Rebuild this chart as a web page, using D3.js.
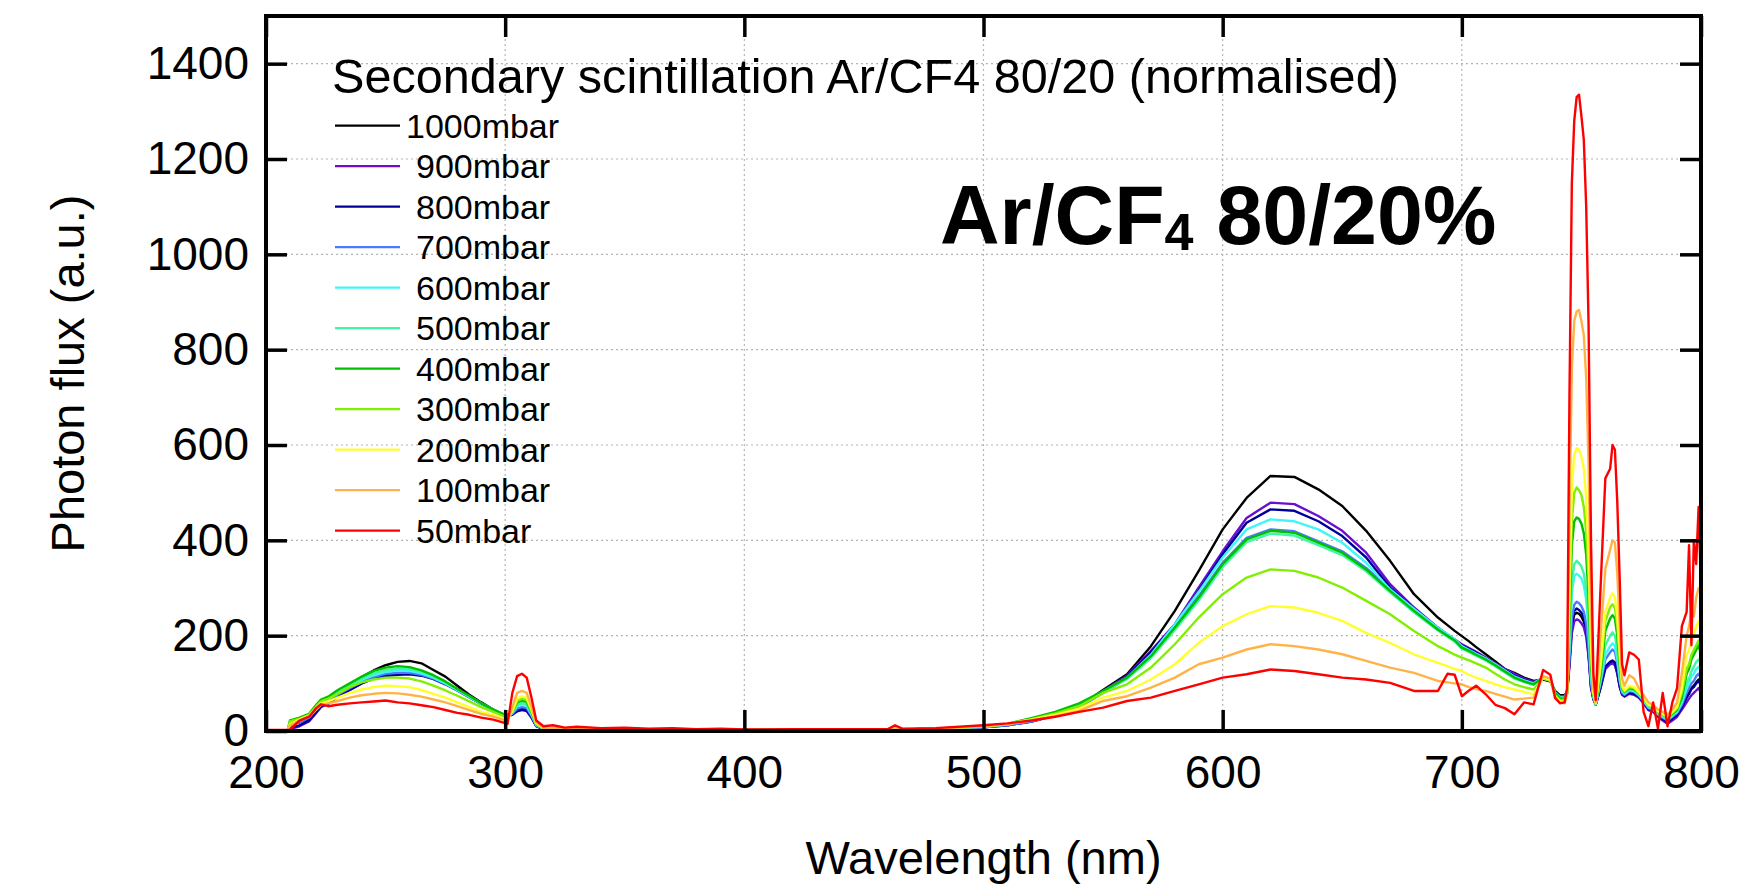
<!DOCTYPE html>
<html>
<head>
<meta charset="utf-8">
<script src="https://cdn.jsdelivr.net/npm/d3@7"></script>
<style>
  body { margin: 0; background: #fff; }
  svg { display: block; font-family: "Liberation Sans", Arial, Helvetica, sans-serif; }
</style>
</head>
<body>
<svg id="chart" width="1758" height="887"></svg>
<script>
// Wavelength grid (nm)
const wavelength = [200, 209, 210, 214, 218, 221, 223, 226, 230, 235,
  240, 245, 250, 255, 260, 265, 270, 275, 280, 285,
  290, 295, 299, 301, 303, 305, 307, 309, 311, 313,
  316, 320, 325, 330, 340, 350, 360, 370, 380, 390,
  400, 420, 440, 460, 463, 466, 480, 500, 510, 520,
  530, 540, 550, 560, 570, 580, 590, 600, 610, 620,
  630, 640, 650, 660, 670, 680, 690, 694, 697, 700,
  703, 706, 710, 714, 718, 722, 726, 730, 734, 737,
  739, 741, 743, 744, 745, 746, 747, 748, 749, 750,
  751, 752, 753, 754, 755, 756, 758, 760, 762, 763,
  764, 765, 766, 767, 768, 770, 772, 774, 776, 778,
  780, 782, 784, 786, 788, 790, 792, 794, 795, 796,
  797, 798, 799, 800];

// Photon flux per pressure (a.u.)
const flux1000 = [0, 0, 14, 18, 26, 42, 52, 60, 78, 97,
  113, 127, 138, 145, 147, 142, 128, 114, 95, 76,
  60, 45, 34, 33, 36, 44, 47, 45, 30, 11,
  5, 5, 4, 4, 3, 3, 3, 2, 2, 2,
  2, 2, 2, 3, 8, 3, 5, 10, 14, 24,
  36, 52, 86, 119, 178, 252, 336, 423, 489, 535,
  533, 507, 472, 420, 357, 287, 238, 222, 210, 199,
  188, 176, 161, 146, 130, 122, 112, 105, 108, 104,
  84, 75, 75, 82, 145, 220, 244, 248, 246, 240,
  230, 210, 160, 95, 68, 56, 92, 135, 143, 144,
  140, 122, 94, 78, 74, 80, 78, 72, 60, 46,
  42, 32, 26, 20, 28, 36, 52, 72, 80, 90,
  95, 102, 108, 98];
const flux900 = [0, 0, 4, 10, 20, 38, 50, 57, 72, 86,
  100, 110, 117, 120, 121, 119, 112, 101, 88, 73,
  58, 45, 36, 33, 35, 41, 44, 42, 28, 10,
  4, 5, 4, 4, 3, 3, 3, 2, 2, 2,
  2, 2, 2, 3, 8, 3, 4, 8, 12, 20,
  33, 50, 84, 116, 168, 224, 301, 377, 447, 479,
  476, 451, 420, 374, 308, 259, 217, 202, 192, 182,
  174, 166, 154, 142, 130, 120, 110, 103, 110, 106,
  80, 72, 72, 78, 135, 205, 230, 234, 232, 226,
  218, 198, 155, 90, 66, 55, 90, 130, 140, 142,
  138, 120, 92, 76, 72, 78, 76, 70, 58, 44,
  40, 30, 22, 15, 22, 30, 45, 60, 68, 75,
  80, 85, 90, 80];
const flux800 = [0, 0, 6, 12, 22, 40, 52, 58, 72, 86,
  100, 110, 116, 118, 119, 116, 109, 98, 85, 71,
  57, 44, 35, 32, 34, 42, 45, 43, 29, 10,
  4, 5, 4, 4, 3, 3, 3, 2, 2, 2,
  2, 2, 2, 3, 8, 3, 4, 8, 12, 20,
  33, 50, 82, 114, 165, 222, 294, 371, 437, 465,
  462, 440, 409, 364, 301, 256, 215, 200, 190, 180,
  172, 164, 152, 140, 128, 116, 108, 101, 110, 106,
  80, 72, 72, 80, 145, 225, 252, 257, 254, 248,
  238, 215, 165, 95, 68, 55, 92, 135, 145, 148,
  144, 125, 95, 78, 74, 80, 78, 72, 60, 46,
  42, 32, 25, 18, 26, 34, 50, 70, 78, 88,
  92, 100, 105, 95];
const flux700 = [0, 0, 12, 18, 28, 45, 55, 62, 76, 90,
  103, 113, 120, 122, 122, 118, 110, 99, 85, 71,
  57, 44, 35, 32, 36, 47, 50, 48, 32, 11,
  5, 5, 4, 4, 3, 3, 3, 2, 2, 2,
  2, 2, 2, 3, 8, 3, 4, 8, 12, 20,
  33, 50, 80, 110, 158, 220, 283, 353, 405, 423,
  419, 398, 377, 342, 297, 255, 216, 203, 192, 177,
  170, 162, 152, 140, 127, 114, 106, 100, 112, 108,
  82, 72, 72, 80, 150, 235, 265, 271, 268, 262,
  250, 225, 175, 100, 70, 56, 100, 150, 165, 171,
  166, 142, 104, 80, 76, 84, 82, 74, 62, 48,
  44, 34, 28, 22, 30, 38, 55, 80, 90, 100,
  105, 115, 120, 110];
const flux600 = [0, 0, 16, 22, 32, 50, 60, 66, 80, 93,
  107, 117, 124, 127, 126, 121, 112, 100, 86, 72,
  57, 44, 35, 32, 38, 52, 56, 53, 35, 12,
  5, 5, 4, 4, 3, 3, 3, 2, 2, 2,
  2, 2, 2, 3, 8, 3, 5, 9, 14, 25,
  38, 55, 83, 112, 160, 224, 292, 364, 423, 444,
  440, 423, 395, 353, 297, 256, 216, 203, 192, 178,
  170, 162, 152, 140, 127, 114, 106, 100, 112, 108,
  80, 70, 70, 80, 175, 290, 325, 330, 326, 320,
  305, 275, 210, 115, 72, 56, 105, 160, 178, 184,
  178, 152, 110, 84, 78, 86, 84, 76, 64, 50,
  46, 36, 30, 24, 32, 40, 60, 90, 100, 115,
  120, 130, 135, 125];
const flux500 = [0, 0, 18, 25, 34, 52, 62, 68, 82, 96,
  110, 121, 128, 131, 130, 124, 114, 102, 87, 73,
  58, 45, 36, 33, 40, 55, 59, 56, 37, 13,
  5, 5, 4, 4, 3, 3, 3, 2, 2, 2,
  2, 2, 2, 3, 8, 3, 5, 9, 14, 25,
  38, 55, 82, 109, 153, 212, 274, 344, 396, 414,
  410, 390, 369, 335, 291, 249, 211, 198, 188, 173,
  166, 158, 148, 136, 123, 110, 103, 97, 110, 106,
  80, 70, 70, 80, 190, 310, 350, 357, 352, 345,
  330, 295, 225, 120, 72, 56, 110, 180, 200, 207,
  200, 170, 120, 86, 80, 88, 85, 78, 66, 52,
  48, 38, 32, 26, 34, 42, 65, 100, 110, 125,
  135, 145, 150, 140];
const flux400 = [0, 0, 22, 28, 36, 55, 66, 72, 86, 100,
  114, 126, 133, 136, 134, 127, 117, 104, 88, 74,
  58, 45, 36, 33, 40, 60, 64, 61, 40, 14,
  5, 5, 4, 4, 3, 3, 3, 2, 2, 2,
  2, 2, 2, 3, 8, 3, 5, 10, 15, 27,
  40, 58, 84, 112, 157, 217, 280, 350, 402, 420,
  416, 395, 374, 339, 294, 252, 213, 200, 190, 175,
  168, 160, 150, 138, 125, 112, 104, 98, 112, 108,
  80, 68, 68, 80, 230, 390, 440, 448, 445, 435,
  415, 370, 280, 145, 76, 58, 120, 210, 236, 243,
  236, 200, 140, 90, 82, 90, 88, 80, 68, 55,
  50, 40, 34, 28, 36, 45, 70, 120, 130, 150,
  160, 170, 180, 160];
const flux300 = [0, 0, 20, 26, 34, 52, 62, 68, 78, 92,
  102, 108, 112, 112, 110, 104, 95, 85, 74, 62,
  50, 40, 32, 29, 40, 63, 68, 65, 42, 15,
  5, 5, 4, 4, 3, 3, 3, 2, 2, 2,
  2, 2, 2, 3, 8, 3, 5, 10, 15, 25,
  37, 52, 80, 98, 133, 182, 238, 287, 322, 339,
  336, 322, 301, 273, 245, 210, 178, 168, 160, 154,
  148, 142, 133, 120, 108, 98, 92, 87, 110, 106,
  76, 65, 65, 78, 260, 440, 500, 511, 505, 495,
  470, 420, 320, 160, 78, 58, 130, 230, 260, 266,
  258, 220, 150, 92, 83, 92, 90, 80, 68, 55,
  50, 40, 34, 28, 38, 48, 80, 130, 140, 160,
  170, 180, 190, 175];
const flux200 = [0, 0, 14, 24, 32, 48, 58, 62, 70, 80,
  87, 92, 95, 94, 92, 86, 78, 70, 60, 50,
  40, 33, 27, 24, 42, 68, 73, 70, 45, 16,
  6, 5, 4, 4, 3, 3, 3, 2, 2, 2,
  2, 2, 2, 3, 8, 3, 5, 10, 15, 24,
  34, 47, 70, 84, 108, 140, 185, 220, 245, 262,
  259, 248, 231, 206, 185, 161, 143, 136, 130, 126,
  118, 112, 105, 98, 92, 87, 82, 77, 112, 108,
  72, 62, 62, 75, 300, 510, 580, 593, 590, 575,
  550, 490, 370, 180, 80, 58, 140, 250, 280, 289,
  280, 240, 165, 95, 85, 95, 92, 82, 70, 55,
  52, 42, 36, 30, 40, 50, 90, 160, 170, 190,
  200, 220, 230, 220];
const flux100 = [0, 0, 12, 22, 30, 45, 55, 58, 63, 70,
  75, 78, 80, 79, 76, 72, 66, 60, 52, 44,
  36, 30, 24, 22, 50, 80, 84, 80, 50, 18,
  6, 5, 4, 4, 3, 3, 3, 2, 2, 2,
  2, 2, 2, 3, 8, 3, 5, 10, 14, 22,
  31, 42, 63, 73, 91, 112, 140, 154, 171, 182,
  178, 171, 161, 147, 133, 122, 105, 102, 100, 98,
  92, 88, 84, 78, 72, 66, 68, 70, 115, 110,
  68, 60, 58, 80, 450, 760, 860, 880, 883, 860,
  830, 740, 560, 260, 90, 60, 200, 340, 380, 400,
  395, 330, 220, 110, 95, 117, 110, 90, 75, 60,
  55, 45, 40, 35, 45, 60, 120, 200, 220, 250,
  240, 280, 300, 290];
const flux50 = [2, 2, 3, 22, 30, 48, 56, 52, 55, 58,
  60, 62, 64, 60, 58, 54, 50, 44, 38, 34,
  28, 24, 18, 15, 80, 115, 120, 112, 70, 22,
  10, 12, 7, 9, 6, 7, 5, 6, 4, 5,
  3, 4, 4, 4, 12, 5, 6, 12, 16, 22,
  30, 40, 49, 63, 70, 84, 98, 112, 119, 129,
  126, 119, 112, 108, 101, 84, 84, 120, 118, 73,
  85, 95, 77, 55, 48, 35, 60, 56, 128, 118,
  70, 58, 60, 90, 700, 1150, 1280, 1330, 1335, 1290,
  1240, 1100, 850, 400, 120, 65, 300, 530, 550, 600,
  590, 480, 320, 140, 117, 165, 160, 150, 40, 10,
  60, 5, 80, 10, 60, 90, 220, 250, 390, 180,
  400, 350, 470, 300];

const pressureLabels = ["1000mbar", "900mbar", "800mbar", "700mbar", "600mbar", "500mbar",
  "400mbar", "300mbar", "200mbar", "100mbar", "50mbar"];
const lineColors = ["#000000", "#6a0fd0", "#000099", "#4a7bff", "#3ff6f6", "#3ff7a0",
  "#00c000", "#80f000", "#ffff30", "#ffb347", "#ff0000"];
const fluxSeries = [flux1000, flux900, flux800, flux700, flux600, flux500,
  flux400, flux300, flux200, flux100, flux50];

const xTicks = [200, 300, 400, 500, 600, 700, 800];
const yTicks = [0, 200, 400, 600, 800, 1000, 1200, 1400];

fluxSeries.forEach((s, i) => {
  if (s.length !== wavelength.length) console.error(pressureLabels[i], s.length);
});

// Layout
const margin = { top: 16, right: 57, bottom: 156, left: 266 };
const width = 1758, height = 887;
const innerW = width - margin.left - margin.right;
const innerH = height - margin.top - margin.bottom;

const svg = d3.select("#chart");

const x = d3.scaleLinear().domain([200, 800]).range([margin.left, margin.left + innerW]);
const y = d3.scaleLinear().domain([0, 1500]).range([margin.top + innerH, margin.top]);

// Dotted grid
const grid = svg.append("g").attr("stroke", "#b4b4b4").attr("stroke-width", 1.2)
  .attr("stroke-dasharray", "2,3");
grid.selectAll("line.gx")
  .data(xTicks.slice(1, -1))
  .join("line")
  .attr("x1", d => x(d)).attr("x2", d => x(d))
  .attr("y1", y(0)).attr("y2", y(1500));
grid.selectAll("line.gy")
  .data(yTicks.slice(1))
  .join("line")
  .attr("class", "gy")
  .attr("x1", x(200)).attr("x2", x(800))
  .attr("y1", d => y(d)).attr("y2", d => y(d));

// Spectra
svg.append("clipPath").attr("id", "plotClip")
  .append("rect")
  .attr("x", x(200)).attr("y", y(1500))
  .attr("width", innerW).attr("height", innerH);

const line = d3.line()
  .x((d, i) => x(wavelength[i]))
  .y(d => y(d));

svg.append("g")
  .attr("clip-path", "url(#plotClip)")
  .selectAll("path")
  .data(fluxSeries)
  .join("path")
  .attr("d", line)
  .attr("fill", "none")
  .attr("stroke", (d, i) => lineColors[i])
  .attr("stroke-width", 2.4)
  .attr("stroke-linejoin", "round");

// Axes with inward ticks on all sides
const tickLen = 21;
const axisStyle = g => {
  g.select(".domain").remove();
  g.selectAll(".tick line").attr("stroke", "#000").attr("stroke-width", 3.5);
  g.selectAll(".tick text").attr("fill", "#000").style("font-size", "46px")
    .style("font-family", "'Liberation Sans', Arial, Helvetica, sans-serif");
};

svg.append("g")
  .attr("transform", `translate(0,${y(0)})`)
  .call(d3.axisBottom(x).tickValues(xTicks).tickSize(-tickLen).tickPadding(24).tickFormat(d3.format("d")))
  .call(axisStyle);
svg.append("g")
  .attr("transform", `translate(0,${y(1500)})`)
  .call(d3.axisTop(x).tickValues(xTicks).tickSize(-tickLen).tickFormat(""))
  .call(axisStyle);
svg.append("g")
  .attr("transform", `translate(${x(200)},0)`)
  .call(d3.axisLeft(y).tickValues(yTicks).tickSize(-tickLen).tickPadding(17).tickFormat(d3.format("d")))
  .call(axisStyle);
svg.append("g")
  .attr("transform", `translate(${x(800)},0)`)
  .call(d3.axisRight(y).tickValues(yTicks).tickSize(-tickLen).tickFormat(""))
  .call(axisStyle);

// Frame
svg.append("rect")
  .attr("x", x(200)).attr("y", y(1500))
  .attr("width", innerW).attr("height", innerH)
  .attr("fill", "none").attr("stroke", "#000").attr("stroke-width", 4);

// Axis titles
svg.append("text")
  .attr("x", x(500)).attr("y", 874)
  .attr("text-anchor", "middle")
  .style("font-size", "47px")
  .text("Wavelength (nm)");
svg.append("text")
  .attr("transform", `translate(84,${(y(0) + y(1500)) / 2}) rotate(-90)`)
  .attr("text-anchor", "middle")
  .style("font-size", "47px")
  .text("Photon flux (a.u.)");

// Legend
svg.append("text")
  .attr("x", 332).attr("y", 93)
  .style("font-size", "48.6px")
  .text("Secondary scintillation Ar/CF4 80/20 (normalised)");

const legend = svg.append("g");
const rows = legend.selectAll("g")
  .data(pressureLabels)
  .join("g")
  .attr("transform", (d, i) => `translate(0,${125.6 + i * 40.5})`);
rows.append("line")
  .attr("x1", 335).attr("x2", 400)
  .attr("stroke", (d, i) => lineColors[i])
  .attr("stroke-width", 2.4);
rows.append("text")
  .attr("x", d => d.length > 7 ? 406 : 416).attr("y", 12)
  .style("font-size", "34px")
  .text(d => d);

// Gas mixture label
const mix = svg.append("text")
  .attr("x", 940).attr("y", 244)
  .style("font-size", "82.5px")
  .style("font-weight", "bold");
mix.append("tspan").text("Ar/CF");
mix.append("tspan").attr("dy", 6).style("font-size", "52px").text("4");
mix.append("tspan").attr("dy", -6).text(" 80/20%");
</script>
</body>
</html>
